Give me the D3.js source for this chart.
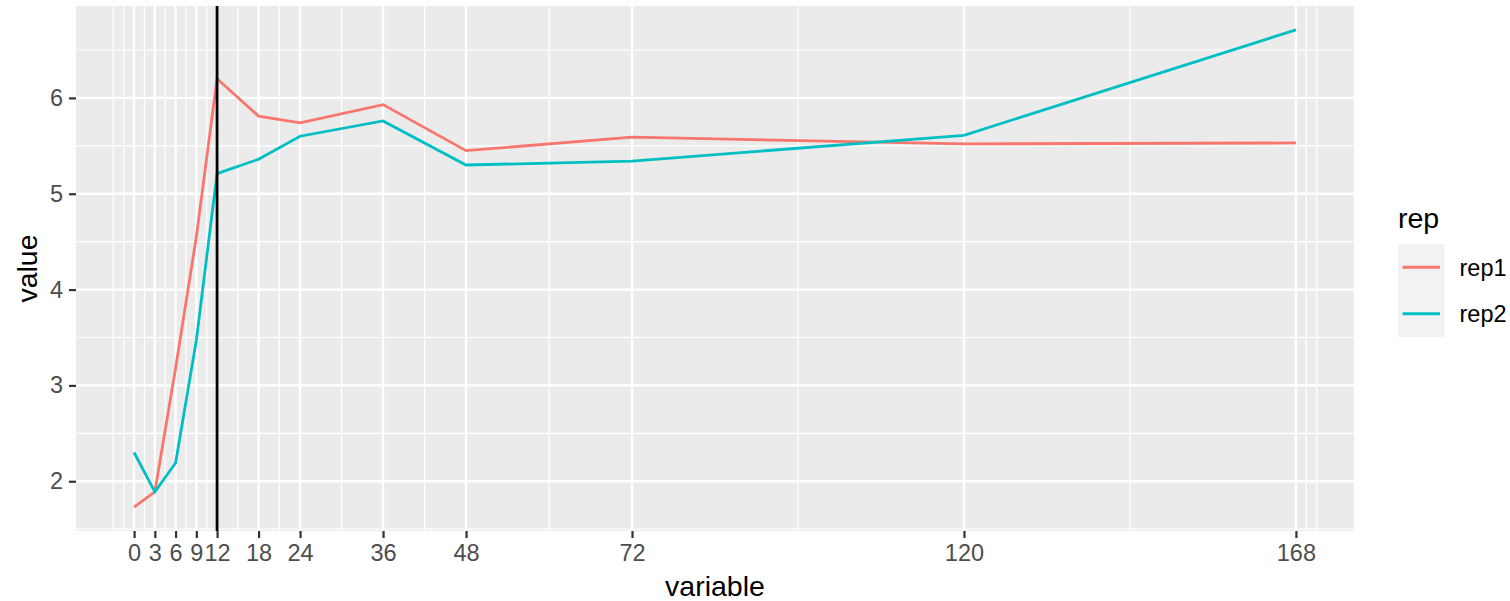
<!DOCTYPE html>
<html lang="en">
<head>
<meta charset="utf-8">
<title>value by variable</title>
<script src="https://cdn.jsdelivr.net/npm/d3@7"></script>
<style>
  body { margin: 0; background: #fff; }
  text { font-family: "Liberation Sans", Arial, Helvetica, sans-serif; }
</style>
</head>
<body>
<script>
// data
var hours = [0, 3, 6, 9, 12, 18, 24, 36, 48, 72, 120, 168];
var rep1 = [1.73, 1.89, 3.18, 4.55, 6.2, 5.81, 5.74, 5.93, 5.45, 5.59, 5.52, 5.53];
var rep2 = [2.30, 1.89, 2.19, 3.47, 5.21, 5.36, 5.60, 5.76, 5.30, 5.34, 5.61, 6.71];
var seriesNames = ["rep1", "rep2"];
var yTicks = [2, 3, 4, 5, 6];
var vlineAt = 12;

var w = 1510, h = 601;
// panel edges (window.top is reserved, so pTop etc.)
var pLeft = 76, pRight = 1354, pTop = 6, pBottom = 531;
var colors = {rep1: "#F8766D", rep2: "#00BFC4"};

var svg = d3.select("body").append("svg")
    .attr("width", w)
    .attr("height", h);

svg.append("rect").attr("width", w).attr("height", h).attr("fill", "#fff");

// ggplot style 5% expansion
var xr = d3.extent(hours);
var xpad = (xr[1] - xr[0]) * 0.05;
var x = d3.scaleLinear().domain([xr[0] - xpad, xr[1] + xpad]).range([pLeft, pRight]);

var yr = d3.extent(rep1.concat(rep2));
var ypad = (yr[1] - yr[0]) * 0.05;
var y = d3.scaleLinear().domain([yr[0] - ypad, yr[1] + ypad]).range([pBottom, pTop]);

// panel
svg.append("rect")
    .attr("x", pLeft).attr("y", pTop)
    .attr("width", pRight - pLeft).attr("height", pBottom - pTop)
    .attr("fill", "#EBEBEB");

// minor breaks the way ggplot does it: extend by first gap, then midpoints
var xb = hours.slice();
var bd = xb[1] - xb[0];
xb.unshift(xb[0] - bd);
xb.push(xb[xb.length - 1] + bd);
var xMinor = [];
for (var i = 0; i < xb.length - 1; i++) {
  xMinor.push(xb[i]);
  xMinor.push((xb[i] + xb[i + 1]) / 2);
}
xMinor.push(xb[xb.length - 1]);
xMinor = xMinor.filter(function(v) {
  return hours.indexOf(v) < 0 && v >= x.domain()[0] && v <= x.domain()[1];
});
var yMinor = [1.5, 2.5, 3.5, 4.5, 5.5, 6.5].filter(function(v) {
  return v >= y.domain()[0] && v <= y.domain()[1];
});

var grid = svg.append("g");
grid.selectAll(".xminor").data(xMinor).enter().append("line")
    .attr("x1", function(d) { return x(d); }).attr("x2", function(d) { return x(d); })
    .attr("y1", pTop).attr("y2", pBottom)
    .attr("stroke", "#fff").attr("stroke-width", 1.2);
grid.selectAll(".yminor").data(yMinor).enter().append("line")
    .attr("x1", pLeft).attr("x2", pRight)
    .attr("y1", function(d) { return y(d); }).attr("y2", function(d) { return y(d); })
    .attr("stroke", "#fff").attr("stroke-width", 1.2);
grid.selectAll(".xmajor").data(hours).enter().append("line")
    .attr("x1", function(d) { return x(d); }).attr("x2", function(d) { return x(d); })
    .attr("y1", pTop).attr("y2", pBottom)
    .attr("stroke", "#fff").attr("stroke-width", 2.3);
grid.selectAll(".ymajor").data(yTicks).enter().append("line")
    .attr("x1", pLeft).attr("x2", pRight)
    .attr("y1", function(d) { return y(d); }).attr("y2", function(d) { return y(d); })
    .attr("stroke", "#fff").attr("stroke-width", 2.3);

// lines
var line = d3.line()
    .x(function(d) { return x(d[0]); })
    .y(function(d) { return y(d[1]); });

var series = [
  {name: "rep1", values: d3.zip(hours, rep1)},
  {name: "rep2", values: d3.zip(hours, rep2)}
];

svg.selectAll(".series").data(series).enter().append("path")
    .attr("d", function(d) { return line(d.values); })
    .attr("fill", "none")
    .attr("stroke", function(d) { return colors[d.name]; })
    .attr("stroke-width", 2.8);

// vertical line at 12h
svg.append("line")
    .attr("x1", x(vlineAt)).attr("x2", x(vlineAt))
    .attr("y1", pTop).attr("y2", pBottom)
    .attr("stroke", "#000").attr("stroke-width", 2.8);

// axes
var xAxis = d3.axisBottom(x).tickValues(hours).tickFormat(d3.format("d"))
    .tickSize(7).tickPadding(6);
var gx = svg.append("g").attr("transform", "translate(0," + pBottom + ")").call(xAxis);
gx.select(".domain").remove();
gx.selectAll(".tick line").attr("stroke", "#333").attr("stroke-width", 2.2);
gx.selectAll(".tick text").attr("fill", "#4D4D4D").attr("font-size", "23.5px")
    .attr("font-family", "Liberation Sans, Arial, sans-serif");

var yAxis = d3.axisLeft(y).tickValues(yTicks).tickFormat(d3.format("d"))
    .tickSize(7).tickPadding(6);
var gy = svg.append("g").attr("transform", "translate(" + pLeft + ",0)").call(yAxis);
gy.select(".domain").remove();
gy.selectAll(".tick line").attr("stroke", "#333").attr("stroke-width", 2.2);
gy.selectAll(".tick text").attr("fill", "#4D4D4D").attr("font-size", "23.5px")
    .attr("font-family", "Liberation Sans, Arial, sans-serif");

// axis titles
svg.append("text")
    .text("variable")
    .attr("x", (pLeft + pRight) / 2)
    .attr("y", 596)
    .attr("text-anchor", "middle")
    .attr("font-size", "28.5px")
    .attr("fill", "#000");

svg.append("text")
    .text("value")
    .attr("transform", "translate(37," + ((pTop + pBottom) / 2) + ") rotate(-90)")
    .attr("text-anchor", "middle")
    .attr("font-size", "28.5px")
    .attr("fill", "#000");

// legend
var lgX = 1398, lgY = 244, key = 46.5;
var legend = svg.append("g");
legend.append("text")
    .text("rep")
    .attr("x", lgX)
    .attr("y", lgY - 16)
    .attr("font-size", "28.5px")
    .attr("fill", "#000");

var items = legend.selectAll(".item").data(seriesNames).enter().append("g")
    .attr("transform", function(d, i) { return "translate(" + lgX + "," + (lgY + i * key) + ")"; });
items.append("rect")
    .attr("width", key).attr("height", key)
    .attr("fill", "#F2F2F2");
items.append("line")
    .attr("x1", 4.5).attr("x2", key - 4.5)
    .attr("y1", key / 2).attr("y2", key / 2)
    .attr("stroke", function(d) { return colors[d]; })
    .attr("stroke-width", 2.8);
items.append("text")
    .text(function(d) { return d; })
    .attr("x", key + 15)
    .attr("y", key / 2 + 8.3)
    .attr("font-size", "23.5px")
    .attr("fill", "#000");
</script>
</body>
</html>
